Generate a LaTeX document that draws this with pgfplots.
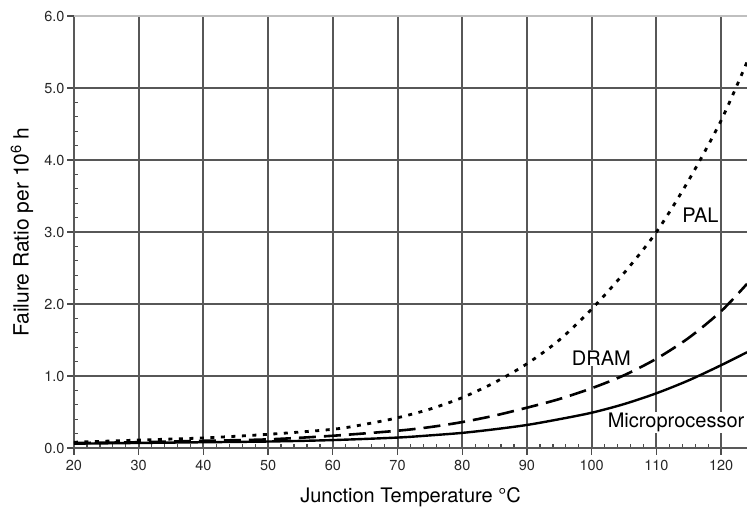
\documentclass[border=0pt]{standalone}
\usepackage{pgfplots}
\pgfplotsset{compat=1.18}
\usepackage{fontspec}
\setmainfont{TeX Gyre Heros}

\pgfplotstableread{
x y
20 0.08
30 0.11
40 0.14
50 0.19
60 0.26
65 0.33
70 0.42
75 0.54
80 0.70
85 0.91
90 1.17
95 1.50
100 1.93
105 2.43
110 3.00
115 3.72
120 4.55
124 5.36
}\pal

\pgfplotstableread{
x y
20 0.07
30 0.08
40 0.10
50 0.12
60 0.17
70 0.24
75 0.29
80 0.36
85 0.45
90 0.56
95 0.68
100 0.83
105 1.01
110 1.24
115 1.53
120 1.90
124 2.28
}\dram

\pgfplotstableread{
x y
20 0.06
30 0.07
40 0.08
50 0.09
60 0.11
70 0.145
75 0.175
80 0.21
85 0.26
90 0.32
95 0.40
100 0.49
105 0.61
110 0.76
115 0.94
120 1.15
124 1.33
}\micro

\begin{document}
\begin{tikzpicture}
\useasboundingbox (-74pt,-65pt) rectangle (673pt,448pt);
\begin{axis}[
  at={(0,0)}, anchor=origin,
  scale only axis, width=673pt, height=432pt,
  xmin=20, xmax=124, ymin=0, ymax=6,
  axis lines*=left,
  axis line style={black!65, line width=1.8pt, -},
  xtick={20,30,...,120},
  ytick={0,1,...,5},
  extra y ticks={6},
  extra y tick style={major grid style={black!25, line width=1.2pt}},
  minor x tick num=4, minor y tick num=4,
  grid=major,
  major grid style={black!66, line width=2.1pt},
  tick align=inside,
  major tick length=-7pt,
  minor tick length=4pt,
  every tick/.style={black!70, line width=1.3pt},
  tick label style={font=\fontsize{14.5}{16}\selectfont, text=black!85},
  xticklabel style={yshift=-9pt},
  yticklabel style={xshift=-6pt},
  /pgf/number format/assume math mode=true,
  yticklabel style={/pgf/number format/fixed, /pgf/number format/fixed zerofill, /pgf/number format/precision=1},
  xlabel={Junction Temperature \textdegree C},
  ylabel={Failure Ratio per 10\textsuperscript{6} h},
  xlabel style={font=\fontsize{20}{22}\selectfont, at={(axis description cs:0.5,-0.1134)}, anchor=center},
  ylabel style={font=\fontsize{21}{23}\selectfont, at={(axis description cs:-0.0773,0.5)}, anchor=center},
  clip=true,
]
\addplot[black, smooth, line width=2.8pt, dash pattern=on 4pt off 6.5pt] table {\pal};
\addplot[black, smooth, line width=2.6pt, dash pattern=on 17pt off 8pt] table {\dram};
\addplot[black, smooth, line width=2.4pt] table {\micro};
\node[fill=white, inner sep=1pt, font=\fontsize{20}{22}\selectfont] at (axis cs:116.8,3.24) {PAL};
\node[fill=white, inner sep=1pt, font=\fontsize{20}{22}\selectfont] at (axis cs:101.5,1.25) {DRAM};
\node[fill=white, inner sep=1pt, anchor=west, font=\fontsize{20}{22}\selectfont] at (axis cs:102.3,0.35) {Microprocessor};
\end{axis}
\end{tikzpicture}
\end{document}
